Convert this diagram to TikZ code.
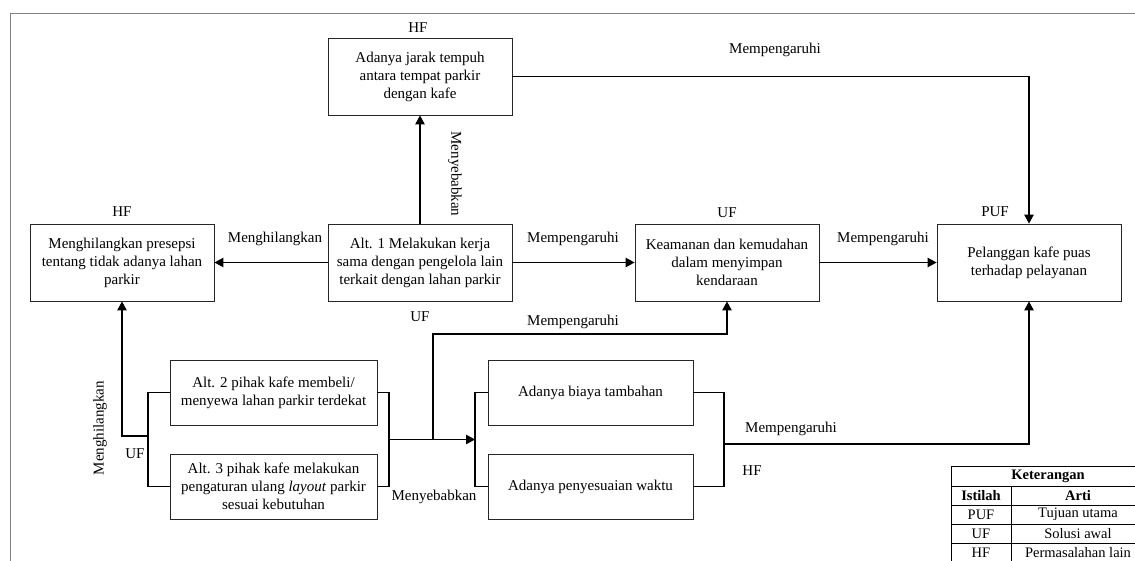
\documentclass[tikz,border=0pt]{standalone}
\usepackage{fontspec}
\setmainfont{Liberation Serif}
\usetikzlibrary{arrows.meta, positioning}

\begin{document}
\begin{tikzpicture}[x=1pt,y=-1pt,
		every node/.style={font=\fontsize{15}{18}\selectfont},
		kotak/.style={draw=black!85,line width=0.9pt,align=center,minimum width=184pt,minimum height=77pt,inner sep=2pt},
		kotakb/.style={kotak,minimum width=207pt,minimum height=65pt},
		kotakc/.style={kotak,minimum width=205pt,minimum height=65pt},
		label/.style={inner sep=0pt},
		panah/.style={line width=1.1pt,-{Triangle[length=9pt,width=9.5pt]}},
		garis/.style={line width=1.1pt},
		tabel/.style={inner sep=0pt,font=\fontsize{14.5}{15}\selectfont}]
	\useasboundingbox (0,0) rectangle (1135,560);
	\clip (0,0) rectangle (1135,560);
	% bingkai
	\draw[gray,line width=1pt] (1150,13) -- (10,13) -- (10,580);

	% kotak
	\node[kotak] (presepsi) at (122,262.5) {Menghilangkan presepsi\\tentang tidak adanya lahan\\parkir};
	\node[kotak] (jarak) at (420,76.5) {Adanya jarak tempuh\\antara tempat parkir\\dengan kafe};
	\node[kotak] (alt1) at (420,262.5) {Alt. 1 Melakukan kerja\\sama dengan pengelola lain\\terkait dengan lahan parkir};
	\node[kotak] (aman) at (727,262.5) {Keamanan dan kemudahan\\dalam menyimpan\\kendaraan};
	\node[kotak] (puas) at (1029,262.5) {Pelanggan kafe puas\\terhadap pelayanan};
	\node[kotakb] (alt2) at (273.5,392.5) {Alt. 2 pihak kafe membeli/\\menyewa lahan parkir terdekat};
	\node[kotakb] (alt3) at (273.5,486.5) {Alt. 3 pihak kafe melakukan\\pengaturan ulang \textit{layout} parkir\\sesuai kebutuhan};
	\node[kotakc] (biaya) at (590.5,392.5) {Adanya biaya tambahan};
	\node[kotakc] (waktu) at (590.5,486.5) {Adanya penyesuaian waktu};

	% titik bantu
	\coordinate (kiri) at (148,436);
	\coordinate (kanan) at (389,439.5);
	\coordinate (cabang) at (433,439.5);
	\coordinate (masuk) at (475,439.5);
	\coordinate (keluar) at (724,444);

	% panah
	\draw[panah] (alt1) -- (presepsi);
	\draw[panah] (alt1) -- (jarak);
	\draw[panah] (alt1) -- (aman);
	\draw[panah] (aman) -- (puas);
	\draw[panah] (jarak.east) -| (puas.north);
	\draw[garis] (alt2.west) -| (kiri) |- (alt3.west);
	\draw[panah] (kiri) -| (presepsi.south);
	\draw[garis] (alt2.east) -| (kanan) |- (alt3.east);
	\draw[panah] (kanan) -- (masuk);
	\draw[panah] (cabang) |- (580,334) -| (aman.south);
	\draw[garis] (biaya.west) -| (masuk) |- (waktu.west);
	\draw[garis] (biaya.east) -| (keluar) |- (waktu.east);
	\draw[panah] (keluar) -| (puas.south);

	% label
	\node[label] (hf1) at (122,212) {HF};
	\node[label] (hf2) at (418,28) {HF};
	\node[label] (uf1) at (727,213) {UF};
	\node[label] (puf) at (995,212) {PUF};
	\node[label] (uf2) at (135,454) {UF};
	\node[label] (uf3) at (420,317) {UF};
	\node[label] (hf3) at (752,471) {HF};
	\node[label] (l1) at (275,239) {Menghilangkan};
	\node[label,rotate=-90] (l2) at (455,174) {Menyebabkan};
	\node[label] (l3) at (573,239) {Mempengaruhi};
	\node[label] (l4) at (883,239) {Mempengaruhi};
	\node[label] (l5) at (775,50) {Mempengaruhi};
	\node[label,rotate=90] (l6) at (100,428) {Menghilangkan};
	\node[label] (l7) at (573,322) {Mempengaruhi};
	\node[label] (l8) at (434,497) {Menyebabkan};
	\node[label] (l9) at (791,429) {Mempengaruhi};

	% keterangan
	\draw[line width=0.9pt] (951,466) rectangle (1145,570);
	\foreach \y in {486,505,524,543}
		\draw[line width=0.9pt] (951,\y) -- (1145,\y);
	\draw[line width=0.9pt] (1011,486) -- (1011,570);
	\node[tabel] (ket) at (1048,476) {\textbf{Keterangan}};
	\node[tabel] (ist) at (981,495.5) {\textbf{Istilah}};
	\node[tabel] (arti) at (1078,495.5) {\textbf{Arti}};
	\node[tabel] (t1) at (981,514.5) {PUF};
	\node[tabel] (a1) at (1078,514.5) {Tujuan utama};
	\node[tabel] (t2) at (981,533.5) {UF};
	\node[tabel] (a2) at (1078,533.5) {Solusi awal};
	\node[tabel] (t3) at (981,552.5) {HF};
	\node[tabel] (a3) at (1078,552.5) {Permasalahan lain};
\end{tikzpicture}
\end{document}
